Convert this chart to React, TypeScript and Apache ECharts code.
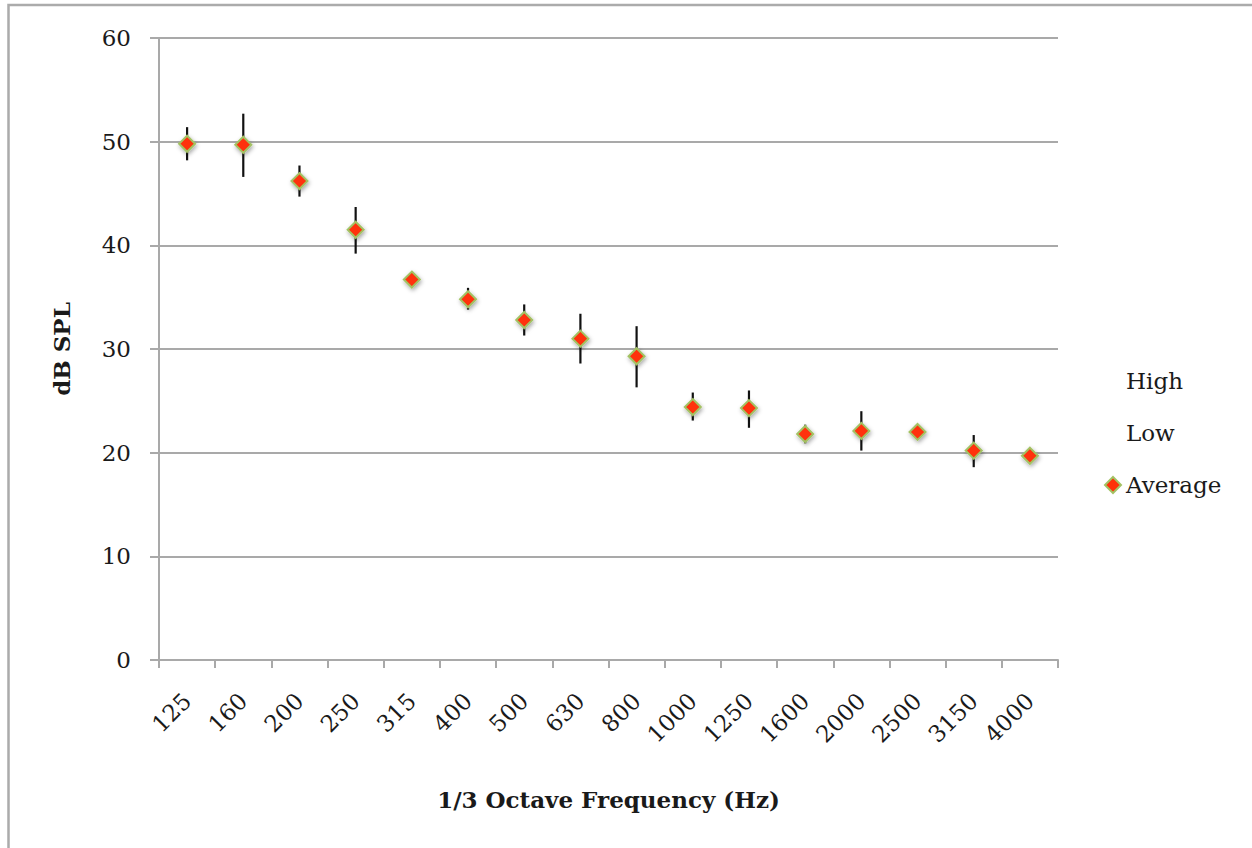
import React, { useEffect, useRef } from "react";
import * as echarts from "echarts";

const categories = ["125", "160", "200", "250", "315", "400", "500", "630", "800", "1000", "1250", "1600", "2000", "2500", "3150", "4000"];
const averageValues = [49.8, 49.7, 46.2, 41.5, 36.7, 34.8, 32.8, 31.0, 29.3, 24.4, 24.3, 21.8, 22.1, 22.0, 20.2, 19.7];
const highValues = [51.4, 52.7, 47.7, 43.7, 37.2, 35.9, 34.3, 33.4, 32.2, 25.8, 26.0, 22.7, 24.0, 22.5, 21.7, 20.2];
const lowValues = [48.2, 46.6, 44.7, 39.2, 36.2, 33.8, 31.3, 28.6, 26.3, 23.1, 22.4, 20.9, 20.2, 21.5, 18.6, 19.3];
const yTicks = { min: 0, max: 60, interval: 10 };

const FONT = "DejaVu Serif";
const TEXT = "#1a1a1a";
const GRID = "#a9a9a9";

export default function App() {
  const ref = useRef<HTMLDivElement>(null);
  useEffect(() => {
    if (!ref.current) return;
    const chart = echarts.init(ref.current, null, { renderer: "svg" });
    const rangeData = categories.map((_, i) => [i, lowValues[i], highValues[i]]);
    chart.setOption({
      animation: false,
      backgroundColor: "#ffffff",
      textStyle: { fontFamily: FONT, color: TEXT },
      graphic: [
        {
          type: "rect",
          shape: { x: 8.5, y: 5, width: 1400, height: 1000 },
          style: { fill: "none", stroke: "#ababab", lineWidth: 2.5 },
          silent: true,
          z: -10,
        },
      ],
      grid: { left: 159, right: 194, top: 38, bottom: 188, containLabel: false },
      legend: {
        orient: "vertical",
        left: 1099,
        top: 363,
        itemWidth: 16,
        itemHeight: 16,
        itemGap: 26,
        selectedMode: false,
        textStyle: { fontFamily: FONT, fontSize: 23, color: TEXT, lineHeight: 26 },
        data: [
          { name: "High", icon: "none" },
          { name: "Low", icon: "none" },
          { name: "Average", icon: "diamond" },
        ],
      },
      xAxis: {
        type: "category",
        data: categories,
        boundaryGap: true,
        name: "1/3 Octave Frequency (Hz)",
        nameLocation: "middle",
        nameGap: 128,
        nameTextStyle: { fontFamily: FONT, fontSize: 23, fontWeight: "bold", color: TEXT },
        axisLine: { show: true, lineStyle: { color: GRID, width: 2 } },
        axisTick: { show: true, length: 8, alignWithLabel: false, lineStyle: { color: GRID, width: 2 } },
        axisLabel: { rotate: 45, margin: 37, fontFamily: FONT, fontSize: 23, color: TEXT, interval: 0 },
        splitLine: { show: false },
      },
      yAxis: {
        type: "value",
        min: yTicks.min,
        max: yTicks.max,
        interval: yTicks.interval,
        name: "dB SPL",
        nameLocation: "middle",
        nameGap: 86,
        nameRotate: 90,
        nameTextStyle: { fontFamily: FONT, fontSize: 23, fontWeight: "bold", color: TEXT },
        axisLine: { show: true, lineStyle: { color: GRID, width: 2 } },
        axisTick: { show: true, length: 9, lineStyle: { color: GRID, width: 2 } },
        axisLabel: { margin: 28, fontFamily: FONT, fontSize: 23, color: TEXT },
        splitLine: { show: true, lineStyle: { color: GRID, width: 2 } },
      },
      series: [
        {
          name: "High",
          type: "scatter",
          symbol: "none",
          symbolSize: 0,
          data: highValues,
          silent: true,
        },
        {
          name: "Low",
          type: "scatter",
          symbol: "none",
          symbolSize: 0,
          data: lowValues,
          silent: true,
        },
        {
          name: "HighLow",
          type: "custom",
          data: rangeData,
          encode: { x: 0, y: [1, 2] },
          z: 2,
          silent: true,
          renderItem: (params: any, api: any) => {
            const i = api.value(0);
            const lo = api.coord([i, api.value(1)]);
            const hi = api.coord([i, api.value(2)]);
            return {
              type: "line",
              shape: { x1: lo[0], y1: lo[1], x2: hi[0], y2: hi[1] },
              style: { stroke: "#111111", lineWidth: 2.2 },
            };
          },
        },
        {
          name: "Average",
          type: "scatter",
          symbol: "diamond",
          symbolSize: 16,
          z: 5,
          data: averageValues,
          itemStyle: {
            color: "#ff3008",
            opacity: 1,
            borderColor: "#a3c264",
            borderWidth: 2,
            shadowBlur: 4,
            shadowColor: "rgba(0,0,0,0.35)",
            shadowOffsetX: 1,
            shadowOffsetY: 2,
          },
        },
      ],
    });
    return () => chart.dispose();
  }, []);
  return (
    <div
      ref={ref}
      style={{ position: "fixed", left: 0, top: 0, width: 1252, height: 848 }}
    />
  );
}
